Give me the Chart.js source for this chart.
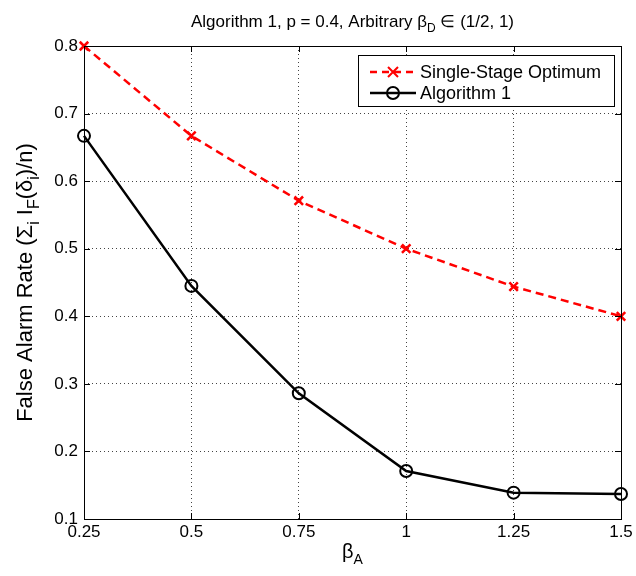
<!DOCTYPE html>
<html>
<head>
<meta charset="utf-8">
<script src="https://cdn.jsdelivr.net/npm/chart.js@4.4.1/dist/chart.umd.min.js"></script>
<style>
  body { margin: 0; background: #fff; }
  #wrap { width: 636px; height: 576px; }
</style>
</head>
<body>
<div id="wrap"><canvas id="chart" width="636" height="576"></canvas></div>
<script>
// beta_A values on the x axis
const betaA = [0.25, 0.5, 0.75, 1, 1.25, 1.5];
// false alarm rates
const singleStage = [0.8, 0.667, 0.571, 0.5, 0.444, 0.4];
const algorithm1 = [0.667, 0.445, 0.286, 0.171, 0.139, 0.137];

const xTicks = [0.25, 0.5, 0.75, 1, 1.25, 1.5];
const xTickLabels = ['0.25', '0.5', '0.75', '1', '1.25', '1.5'];
const yTicks = [0.1, 0.2, 0.3, 0.4, 0.5, 0.6, 0.7, 0.8];
const yTickLabels = ['0.1', '0.2', '0.3', '0.4', '0.5', '0.6', '0.7', '0.8'];

const FONT = '"Liberation Sans", Arial, Helvetica, sans-serif';

// draws text made of normal and subscript pieces
function richWidth(ctx, parts, size) {
    let w = 0;
    parts.forEach(p => {
        ctx.font = (p.sub ? Math.round(size * 0.72) : size) + 'px ' + FONT;
        w += ctx.measureText(p.t).width;
    });
    return w;
}

function drawRich(ctx, parts, x, y, size) {
    // x is the centre, y the baseline
    let cx = x - richWidth(ctx, parts, size) / 2;
    ctx.textAlign = 'left';
    ctx.textBaseline = 'alphabetic';
    parts.forEach(p => {
        const s = p.sub ? Math.round(size * 0.72) : size;
        ctx.font = s + 'px ' + FONT;
        ctx.fillText(p.t, cx, p.sub ? y + size * 0.3 : y);
        cx += ctx.measureText(p.t).width;
    });
}

function drawMarker(ctx, style, x, y) {
    ctx.beginPath();
    if (style === 'x') {
        ctx.moveTo(x - 5, y - 5); ctx.lineTo(x + 5, y + 5);
        ctx.moveTo(x + 5, y - 5); ctx.lineTo(x - 5, y + 5);
    } else {
        ctx.arc(x, y, 6, 0, Math.PI * 2);
    }
    ctx.stroke();
}

const decorations = {
    id: 'decorations',
    afterDraw(chart) {
        const ctx = chart.ctx;
        const a = chart.chartArea;
        const xs = chart.scales.x;
        const ys = chart.scales.y;
        ctx.save();

        // axes box and inward ticks
        ctx.strokeStyle = '#000';
        ctx.lineWidth = 1;
        ctx.setLineDash([]);
        ctx.strokeRect(a.left + 0.5, a.top + 0.5, a.right - a.left, a.bottom - a.top);
        ctx.beginPath();
        xTicks.forEach(v => {
            const px = Math.round(xs.getPixelForValue(v)) + 0.5;
            ctx.moveTo(px, a.bottom); ctx.lineTo(px, a.bottom - 6);
            ctx.moveTo(px, a.top); ctx.lineTo(px, a.top + 6);
        });
        yTicks.forEach(v => {
            const py = Math.round(ys.getPixelForValue(v)) + 0.5;
            ctx.moveTo(a.left, py); ctx.lineTo(a.left + 6, py);
            ctx.moveTo(a.right, py); ctx.lineTo(a.right - 6, py);
        });
        ctx.stroke();

        // title and axis titles
        ctx.fillStyle = '#000';
        drawRich(ctx, [
            { t: 'Algorithm 1, p = 0.4, Arbitrary β' },
            { t: 'D', sub: true },
            { t: ' ∈ (1/2, 1)' }
        ], (a.left + a.right) / 2, 27, 17);

        drawRich(ctx, [{ t: 'β' }, { t: 'A', sub: true }], (a.left + a.right) / 2, 558, 20);

        ctx.save();
        ctx.translate(32, (a.top + a.bottom) / 2);
        ctx.rotate(-Math.PI / 2);
        drawRich(ctx, [
            { t: 'False Alarm Rate (Σ' },
            { t: 'i', sub: true },
            { t: ' I' },
            { t: 'F', sub: true },
            { t: '(δ' },
            { t: 'i', sub: true },
            { t: ')/n)' }
        ], 0, 0, 22);
        ctx.restore();

        // legend
        const lx = 358, ly = 55, lw = 256, lh = 51;
        ctx.fillStyle = '#fff';
        ctx.fillRect(lx, ly, lw, lh);
        ctx.strokeStyle = '#000';
        ctx.lineWidth = 1;
        ctx.strokeRect(lx + 0.5, ly + 0.5, lw, lh);

        const rows = [
            { y: 72, color: '#ff0000', dash: [7, 5], marker: 'x', label: 'Single-Stage Optimum' },
            { y: 93, color: '#000000', dash: [], marker: 'o', label: 'Algorithm 1' }
        ];
        rows.forEach(r => {
            ctx.strokeStyle = r.color;
            ctx.lineWidth = 2.5;
            ctx.setLineDash(r.dash);
            ctx.beginPath();
            ctx.moveTo(370, r.y); ctx.lineTo(416, r.y);
            ctx.stroke();
            ctx.setLineDash([]);
            ctx.lineWidth = 2;
            drawMarker(ctx, r.marker, 393, r.y);
            ctx.fillStyle = '#000';
            ctx.font = '18px ' + FONT;
            ctx.textAlign = 'left';
            ctx.textBaseline = 'middle';
            ctx.fillText(r.label, 420, r.y + 1);
        });

        ctx.restore();
    }
};

new Chart(document.getElementById('chart'), {
    type: 'line',
    data: {
        datasets: [{
            label: 'Single-Stage Optimum',
            data: betaA.map((x, i) => ({ x: x, y: singleStage[i] })),
            borderColor: '#ff0000',
            borderWidth: 2.5,
            borderDash: [8, 5],
            pointStyle: 'crossRot',
            pointRadius: 6,
            pointBorderWidth: 2.5,
            pointBorderColor: '#ff0000',
            pointBackgroundColor: '#ff0000',
            fill: false,
            tension: 0,
            clip: false
        }, {
            label: 'Algorithm 1',
            data: betaA.map((x, i) => ({ x: x, y: algorithm1[i] })),
            borderColor: '#000000',
            borderWidth: 2.5,
            pointStyle: 'circle',
            pointRadius: 6,
            pointBorderWidth: 2,
            pointBorderColor: '#000000',
            pointBackgroundColor: 'rgba(0,0,0,0)',
            fill: false,
            tension: 0,
            clip: false
        }]
    },
    options: {
        responsive: false,
        animation: false,
        layout: { padding: { top: 46, right: 15, left: 0, bottom: 0 } },
        plugins: {
            legend: { display: false },
            title: { display: false },
            tooltip: { enabled: false }
        },
        scales: {
            x: {
                type: 'linear',
                min: 0.25,
                max: 1.5,
                afterBuildTicks: s => { s.ticks = xTicks.map(v => ({ value: v })); },
                afterFit: s => { s.height = 57; },
                ticks: {
                    callback: (v, i) => xTickLabels[i],
                    color: '#000',
                    font: { family: FONT, size: 17 },
                    padding: 3,
                    maxRotation: 0,
                    autoSkip: false
                },
                grid: { color: '#444', lineWidth: 1, drawTicks: false },
                border: { display: false, dash: [1, 3] }
            },
            y: {
                type: 'linear',
                min: 0.1,
                max: 0.8,
                afterBuildTicks: s => { s.ticks = yTicks.map(v => ({ value: v })); },
                afterFit: s => { s.width = 84; },
                ticks: {
                    callback: (v, i) => yTickLabels[i],
                    color: '#000',
                    font: { family: FONT, size: 17 },
                    padding: 6,
                    autoSkip: false
                },
                grid: { color: '#444', lineWidth: 1, drawTicks: false },
                border: { display: false, dash: [1, 3] }
            }
        }
    },
    plugins: [decorations]
});
</script>
</body>
</html>
